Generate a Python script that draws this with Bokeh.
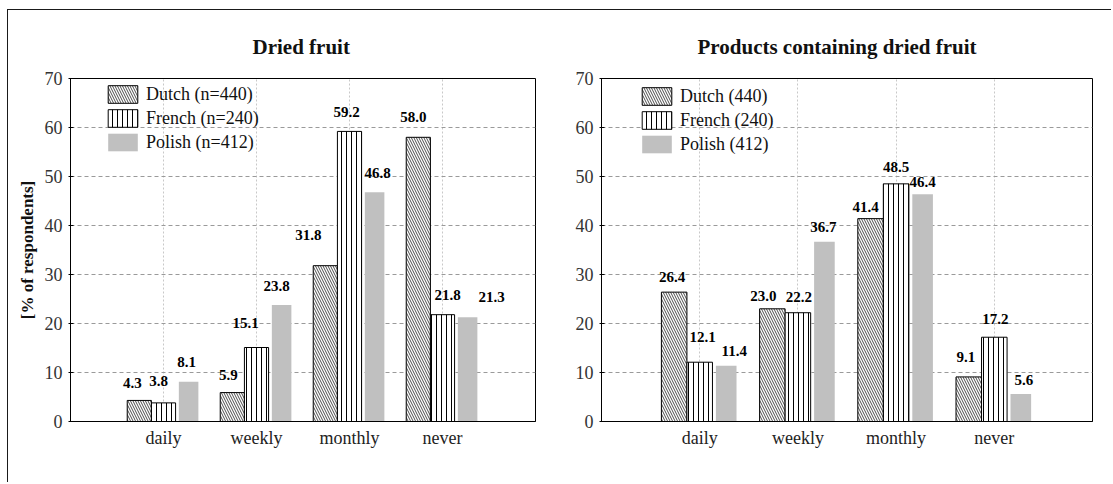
import numpy as np
from bokeh.plotting import figure
from bokeh.models import (ColumnDataSource, FixedTicker, Legend, LegendItem, Range1d, Spacer)
from bokeh.layouts import row, column
from bokeh.embed import file_html
from bokeh.resources import INLINE
from bokeh.core.properties import value

# ---------------- data ----------------
categories = ["daily", "weekly", "monthly", "never"]

dried_dutch = [4.3, 5.9, 31.8, 58.0]
dried_french = [3.8, 15.1, 59.2, 21.8]
dried_polish = [8.1, 23.8, 46.8, 21.3]
dried_names = ["Dutch (n=440)", "French (n=240)", "Polish (n=412)"]

prod_dutch = [26.4, 23.0, 41.4, 9.1]
prod_french = [12.1, 22.2, 48.5, 17.2]
prod_polish = [11.4, 36.7, 46.4, 5.6]
prod_names = ["Dutch (440)", "French (240)", "Polish (412)"]

y_ticks = [0, 10, 20, 30, 40, 50, 60, 70]

# label nudges (pixels): (dx, dy above bar top) per series, per category
dried_nudge = {
    "dutch": ([-7, -4, -17, -5], [17, 18, 31, 20]),
    "french": ([-5, -11, -3, 5], [22, 25, 19, 20]),
    "polish": ([-2, -5, 3, 24], [20, 19, 19, 20]),
}
prod_nudge = {
    "dutch": ([-2, -9, -5, -3], [15, 13, 12, 20]),
    "french": ([3, 1, 0, 1], [25, 16, 17, 18]),
    "polish": ([8, -1, 0, 3], [15, 15, 12, 14]),
}

SERIF = "Liberation Serif"


def make_panel(title, dutch, french, polish, names, nudges, width, height,
               bl, br, bt, bb, ylabel, legend_xy, title_offset):
    n = len(categories)
    p = figure(width=width, height=height, output_backend="svg",
               toolbar_location=None,
               x_range=Range1d(0, n + 1), y_range=Range1d(0, 70),
               min_border_left=bl, min_border_right=br,
               min_border_top=bt, min_border_bottom=bb)
    p.background_fill_color = "white"
    p.border_fill_color = "white"
    p.outline_line_color = "black"
    p.outline_line_width = 1

    idx = np.arange(1, n + 1)
    specs = [
        ("dutch", dutch, -0.26, 0.26,
         dict(fill_color="white", line_color="black", line_width=1,
              hatch_pattern="left_diagonal_line", hatch_scale=5,
              hatch_color="black", hatch_weight=0.7)),
        ("french", french, 0.0, 0.26,
         dict(fill_color="white", line_color="black", line_width=1,
              hatch_pattern="vertical_line", hatch_scale=5,
              hatch_color="black", hatch_weight=1)),
        ("polish", polish, 0.27, 0.21,
         dict(fill_color="#c0c0c0", line_color=None)),
    ]
    renderers = []
    for key, vals, off, w, style in specs:
        src = ColumnDataSource(dict(x=idx + off, top=vals))
        r = p.vbar(x="x", top="top", bottom=0, width=w, source=src, **style)
        renderers.append(r)
        dx, dy = nudges[key]
        lsrc = ColumnDataSource(dict(
            x=idx + off, y=vals, txt=[f"{v:.1f}" for v in vals],
            xo=dx, yo=[-d for d in dy]))
        p.text(x="x", y="y", text="txt", x_offset="xo", y_offset="yo",
               source=lsrc, text_align="center", text_baseline="middle",
               text_font=value(SERIF), text_font_style="bold",
               text_font_size="15px", text_color="black")

    legend = Legend(
        items=[LegendItem(label=nm, renderers=[r]) for nm, r in zip(names, renderers)],
        location=legend_xy, glyph_width=37, glyph_height=22, spacing=2,
        padding=0, label_standoff=5, label_height=22,
        label_text_font=SERIF, label_text_font_size="18px",
        label_text_color="#111111",
        border_line_color=None, background_fill_alpha=0)
    p.add_layout(legend)

    # axes
    p.xaxis.ticker = FixedTicker(ticks=list(idx))
    p.xaxis.major_label_overrides = {int(i): c for i, c in zip(idx, categories)}
    p.xaxis.major_tick_in = 0
    p.xaxis.major_tick_out = 0
    p.xaxis.minor_tick_line_color = None
    p.xaxis.major_label_standoff = 6
    p.xaxis.major_label_text_font = SERIF
    p.xaxis.major_label_text_font_size = "18px"
    p.xaxis.major_label_text_color = "#222222"
    p.xaxis.axis_line_color = "black"

    p.yaxis.ticker = FixedTicker(ticks=y_ticks)
    p.yaxis.major_tick_in = 3
    p.yaxis.major_tick_out = 2
    p.yaxis.minor_tick_line_color = None
    p.yaxis.major_label_standoff = 6
    p.yaxis.major_label_text_font = SERIF
    p.yaxis.major_label_text_font_size = "18px"
    p.yaxis.major_label_text_color = "#333333"
    p.yaxis.axis_line_color = "black"
    if ylabel:
        p.yaxis.axis_label = ylabel
        p.yaxis.axis_label_text_font = SERIF
        p.yaxis.axis_label_text_font_style = "bold"
        p.yaxis.axis_label_text_font_size = "17px"
        p.yaxis.axis_label_standoff = 5
        p.yaxis.axis_label_text_color = "#111111"

    # grids
    p.xgrid.ticker = FixedTicker(ticks=list(idx))
    p.xgrid.grid_line_color = "#c8c8c8"
    p.xgrid.grid_line_dash = "2 2"
    p.ygrid.ticker = FixedTicker(ticks=y_ticks)
    p.ygrid.grid_line_color = "#9a9a9a"
    p.ygrid.grid_line_dash = "4 3"

    # title
    p.title.text = title
    p.title.align = "left"
    p.title.offset = title_offset
    p.title.text_font = SERIF
    p.title.text_font_style = "bold"
    p.title.text_font_size = "21px"
    p.title.text_color = "#111111"
    p.title.standoff = 40
    return p


p1 = make_panel("Dried fruit", dried_dutch, dried_french, dried_polish,
                dried_names, dried_nudge, 547, 472, 62, 20, 68, 61,
                "[% of respondents]", (34, 268), 182)
p2 = make_panel("Products containing dried fruit", prod_dutch, prod_french,
                prod_polish, prod_names, prod_nudge, 556, 472, 46, 19, 68, 61,
                None, (37, 266), 96)

inner = row(p1, p2, styles={"border-left": "1px solid #1a1a1a",
                            "border-top": "1px solid #1a1a1a"})
layout = column(Spacer(height=9), row(Spacer(width=7), inner))

open("out.html", "w").write(file_html(layout, INLINE))
